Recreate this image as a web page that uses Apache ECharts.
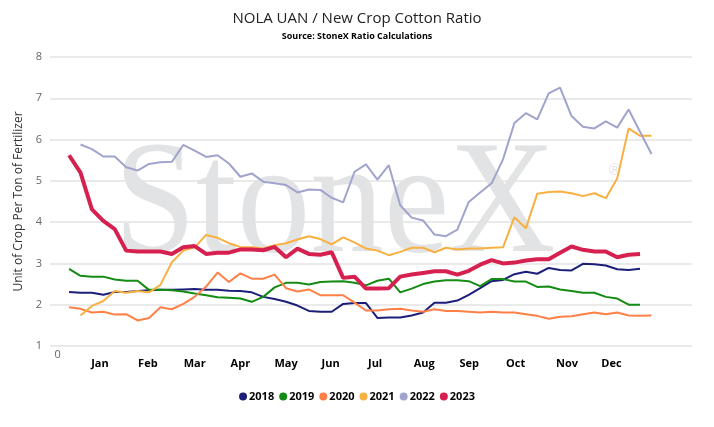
<!DOCTYPE html>
<html lang="en">

<head>
    <meta charset="UTF-8">
    <title>NOLA UAN / New Crop Cotton Ratio</title>
    <style>
        html,
        body,
        .container {
            height: 100%;
            margin: 0;
        }
    </style>
</head>

<body>
    <div id="container" class="container"></div>
    <script src="https://cdn.jsdelivr.net/npm/echarts@6/dist/echarts.min.js"></script>
    <script>
        // tick labels (month name -> week position on the x axis)
        var monthNames = ['Jan', 'Feb', 'Mar', 'Apr', 'May', 'Jun', 'Jul', 'Aug', 'Sep', 'Oct', 'Nov', 'Dec'];
        var monthWeeks = [3.7, 7.9, 12.0, 16.0, 20.0, 23.9, 27.8, 32.1, 36.05, 40.1, 44.6, 48.5];

        var years = ['2018', '2019', '2020', '2021', '2022', '2023'];
        var firstWeek = [1, 1, 1, 2, 2, 1];

        // weekly ratios
        var r2018 = [2.31, 2.29, 2.29, 2.24, 2.31, 2.31, 2.33, 2.35, 2.36, 2.36,
            2.37, 2.38, 2.36, 2.36, 2.34, 2.33, 2.30, 2.19, 2.14, 2.07,
            1.98, 1.85, 1.83, 1.83, 2.02, 2.04, 2.04, 1.68, 1.69, 1.69,
            1.74, 1.81, 2.05, 2.05, 2.10, 2.24, 2.40, 2.57, 2.60, 2.74,
            2.80, 2.75, 2.89, 2.84, 2.83, 2.99, 2.98, 2.95, 2.86, 2.84, 2.87];
        var r2019 = [2.87, 2.70, 2.68, 2.68, 2.61, 2.58, 2.58, 2.36, 2.36, 2.35,
            2.32, 2.27, 2.23, 2.18, 2.17, 2.15, 2.07, 2.19, 2.42, 2.53,
            2.53, 2.49, 2.55, 2.56, 2.57, 2.53, 2.47, 2.58, 2.63, 2.30,
            2.39, 2.50, 2.56, 2.59, 2.59, 2.57, 2.45, 2.62, 2.62, 2.56,
            2.56, 2.43, 2.44, 2.37, 2.33, 2.29, 2.29, 2.19, 2.15, 2.00, 2.00];
        var r2020 = [1.94, 1.90, 1.81, 1.83, 1.76, 1.77, 1.62, 1.68, 1.94, 1.89,
            2.02, 2.19, 2.44, 2.78, 2.55, 2.76, 2.63, 2.63, 2.73, 2.40,
            2.32, 2.37, 2.23, 2.23, 2.23, 2.05, 1.86, 1.86, 1.89, 1.90,
            1.86, 1.83, 1.89, 1.85, 1.85, 1.83, 1.81, 1.83, 1.81, 1.81,
            1.77, 1.73, 1.66, 1.71, 1.72, 1.77, 1.81, 1.77, 1.81, 1.74, 1.73, 1.74];
        var r2021 = [1.74, 1.97, 2.09, 2.33, 2.29, 2.33, 2.30, 2.48, 3.03, 3.31,
            3.39, 3.69, 3.62, 3.49, 3.40, 3.39, 3.36, 3.44, 3.49, 3.58,
            3.66, 3.59, 3.46, 3.63, 3.51, 3.36, 3.31, 3.20, 3.28, 3.38,
            3.38, 3.27, 3.38, 3.34, 3.36, 3.36, 3.38, 3.39, 4.12, 3.85,
            4.69, 4.73, 4.74, 4.70, 4.63, 4.70, 4.58, 5.06, 6.27, 6.09, 6.09];
        var r2022 = [5.88, 5.77, 5.59, 5.59, 5.33, 5.25, 5.41, 5.45, 5.46, 5.87,
            5.73, 5.58, 5.62, 5.42, 5.10, 5.18, 4.98, 4.94, 4.90, 4.72,
            4.79, 4.78, 4.59, 4.48, 5.22, 5.40, 5.03, 5.38, 4.41, 4.11,
            4.04, 3.70, 3.66, 3.82, 4.49, 4.72, 4.94, 5.52, 6.40, 6.64,
            6.49, 7.12, 7.26, 6.57, 6.31, 6.27, 6.44, 6.29, 6.73, 6.19, 5.65];
        var r2023 = [5.62, 5.20, 4.31, 4.03, 3.83, 3.31, 3.29, 3.29, 3.29, 3.23,
            3.39, 3.42, 3.23, 3.26, 3.26, 3.34, 3.34, 3.32, 3.40, 3.15,
            3.36, 3.23, 3.21, 3.27, 2.65, 2.68, 2.39, 2.39, 2.40, 2.68,
            2.73, 2.77, 2.81, 2.81, 2.73, 2.82, 2.97, 3.08, 3.00, 3.02,
            3.07, 3.10, 3.10, 3.26, 3.41, 3.33, 3.29, 3.29, 3.15, 3.21, 3.23];

        var ratios = [r2018, r2019, r2020, r2021, r2022, r2023];
        var colors = ['#1b1f7a', '#148c14', '#ff8046', '#f8b042', '#a0a4cd', '#d6204f'];

        var font = '"Open Sans", sans-serif';
        var dom = document.getElementById("container");
        var myChart = echarts.init(dom);

        var series = years.map(function (y, k) {
            return {
                name: y,
                type: 'line',
                data: ratios[k].map(function (v, i) { return [firstWeek[k] + i, v]; }),
                showSymbol: false,
                symbol: 'circle',
                lineStyle: { width: y === '2023' ? 4 : 2 },
                emphasis: { disabled: true },
                z: y === '2023' ? 5 : 3
            };
        });

        var option = {
            animation: false,
            color: colors,
            textStyle: { fontFamily: font },
            title: {
                text: 'NOLA UAN / New Crop Cotton Ratio',
                subtext: 'Source: StoneX Ratio Calculations',
                left: 'center',
                top: 6,
                itemGap: 6,
                textStyle: { fontFamily: font, fontSize: 15, fontWeight: 'normal', color: '#222' },
                subtextStyle: { fontFamily: font, fontSize: 9, fontWeight: 'bold', color: '#000' }
            },
            legend: {
                data: years,
                top: 386,
                left: 'center',
                icon: 'circle',
                itemWidth: 8,
                itemHeight: 8,
                itemGap: 5,
                textStyle: { fontFamily: font, fontSize: 11, fontWeight: 'bold', color: '#000', padding: [0, 0, 0, -3] }
            },
            grid: { left: 50, right: 22, top: 57, bottom: 81 },
            graphic: [
                {
                    // watermark
                    type: 'text',
                    z: -10,
                    silent: true,
                    x: 114,
                    y: 209,
                    scaleX: 0.92,
                    style: {
                        text: 'StoneX',
                        x: 0,
                        y: 0,
                        verticalAlign: 'middle',
                        font: '160px "Liberation Serif", serif',
                        fill: '#e2e3e5'
                    }
                },
                {
                    type: 'text',
                    z: -10,
                    silent: true,
                    style: {
                        text: '\u00ae',
                        x: 609,
                        y: 163,
                        font: '16px "Liberation Sans", sans-serif',
                        fill: '#e2e3e5'
                    }
                }
            ],
            xAxis: {
                type: 'value',
                min: -0.67,
                max: 55.55,
                axisLine: { show: false },
                axisTick: { show: false },
                splitLine: { show: false },
                axisLabel: {
                    customValues: [0].concat(monthWeeks),
                    margin: 3,
                    formatter: function (v) {
                        if (v === 0) return '{z|0}';
                        var k = monthWeeks.indexOf(v);
                        return '{m|' + monthNames[k] + '}';
                    },
                    rich: {
                        z: { fontFamily: font, fontSize: 11, color: '#666' },
                        m: { fontFamily: font, fontSize: 11, fontWeight: 'bold', color: '#000', padding: [9, 0, 0, 0] }
                    }
                }
            },
            yAxis: {
                type: 'value',
                min: 1,
                max: 8,
                interval: 1,
                name: 'Unit of Crop Per Ton of Fertilizer',
                nameLocation: 'middle',
                nameGap: 20,
                nameTextStyle: { fontFamily: font, fontSize: 12, color: '#333' },
                axisLine: { show: false },
                axisTick: { show: false },
                axisLabel: { fontFamily: font, fontSize: 11, color: '#666', margin: 8 },
                splitLine: { lineStyle: { color: '#e3e3e3', width: 1.5 } }
            },
            series: series
        };

        myChart.setOption(option);
    </script>
</body>

</html>
